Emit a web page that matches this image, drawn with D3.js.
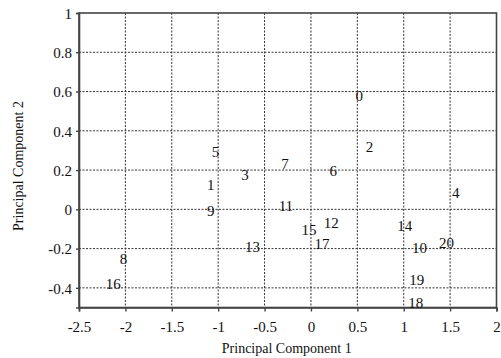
<!DOCTYPE html>
<html><head><meta charset="utf-8">
<script src="https://cdn.jsdelivr.net/npm/d3@7/dist/d3.min.js"></script>
<style>body{margin:0;background:#fff}svg{display:block}</style>
</head><body><svg id="c" width="501" height="358"></svg>
<script>
const labels = ["0","1","2","3","4","5","6","7","8","9","10","11","12","13","14","15","16","17","18","19","20"];
const pc1 = [0.52,-1.08,0.63,-0.71,1.56,-1.03,0.24,-0.28,-2.02,-1.08,1.17,-0.27,0.22,-0.63,1.01,-0.02,-2.13,0.12,1.13,1.14,1.46];
const pc2 = [0.578,0.124,0.319,0.175,0.084,0.293,0.193,0.23,-0.253,-0.007,-0.195,0.018,-0.071,-0.192,-0.085,-0.105,-0.382,-0.178,-0.475,-0.36,-0.173];
const xTicks = [-2.5,-2,-1.5,-1,-0.5,0,0.5,1,1.5,2];
const yTicks = [-0.4,-0.2,0,0.2,0.4,0.6,0.8,1];

const FONT='"Liberation Serif","Times New Roman",serif';
const L=79,R=496.5,T=13,B=307.5;
const svg=d3.select("#c");
const x=d3.scaleLinear().domain([-2.5,2]).range([L,R]);
const y=d3.scaleLinear().domain([-0.5,1]).range([B,T]);

const grid=svg.append("g").attr("stroke","#333").attr("stroke-width",1).attr("stroke-dasharray","2,1.5");
grid.selectAll("line.v").data(xTicks.filter(d=>d>-2.5&&d<2)).join("line")
  .attr("x1",d=>x(d)).attr("x2",d=>x(d)).attr("y1",T).attr("y2",B);
grid.selectAll("line.h").data(yTicks.filter(d=>d<1)).join("line")
  .attr("y1",d=>y(d)).attr("y2",d=>y(d)).attr("x1",L).attr("x2",R);

svg.append("rect").attr("x",L).attr("y",T).attr("width",R-L).attr("height",B-T)
  .attr("fill","none").attr("stroke","#444").attr("stroke-width",1.6);

const fmt=d=>String(d);
const xa=svg.append("g").attr("transform",`translate(0,${B})`)
  .call(d3.axisBottom(x).tickValues(xTicks).tickFormat(fmt).tickSize(4).tickPadding(10));
const ya=svg.append("g").attr("transform",`translate(${L},0)`)
  .call(d3.axisLeft(y).tickValues(yTicks).tickFormat(fmt).tickSize(3).tickPadding(4));
[xa,ya].forEach(a=>{
  a.attr("font-family",null).attr("font-size",null);
  a.select(".domain").attr("stroke","#444").attr("stroke-width",1.6);
  a.selectAll(".tick line").attr("stroke","#444").attr("stroke-width",1.4);
  a.selectAll(".tick text").style("font-family",FONT).style("font-size","15px").attr("fill","#111");
});
ya.selectAll(".tick text").attr("dy","0.35em");

svg.append("g").selectAll("text").data(labels).join("text")
  .attr("x",(d,i)=>x(pc1[i])).attr("y",(d,i)=>y(pc2[i]))
  .attr("text-anchor","middle").attr("dominant-baseline","central")
  .style("font-family",FONT).style("font-size","15px").attr("fill","#111").text(d=>d);

svg.append("text").attr("x",(L+R)/2-1).attr("y",353).attr("text-anchor","middle")
  .style("font-family",FONT).style("font-size","14px").attr("fill","#111").text("Principal Component 1");
svg.append("text").attr("transform","translate(23,166) rotate(-90)").attr("text-anchor","middle")
  .style("font-family",FONT).style("font-size","14px").attr("fill","#111").text("Principal Component 2");
</script></body></html>
